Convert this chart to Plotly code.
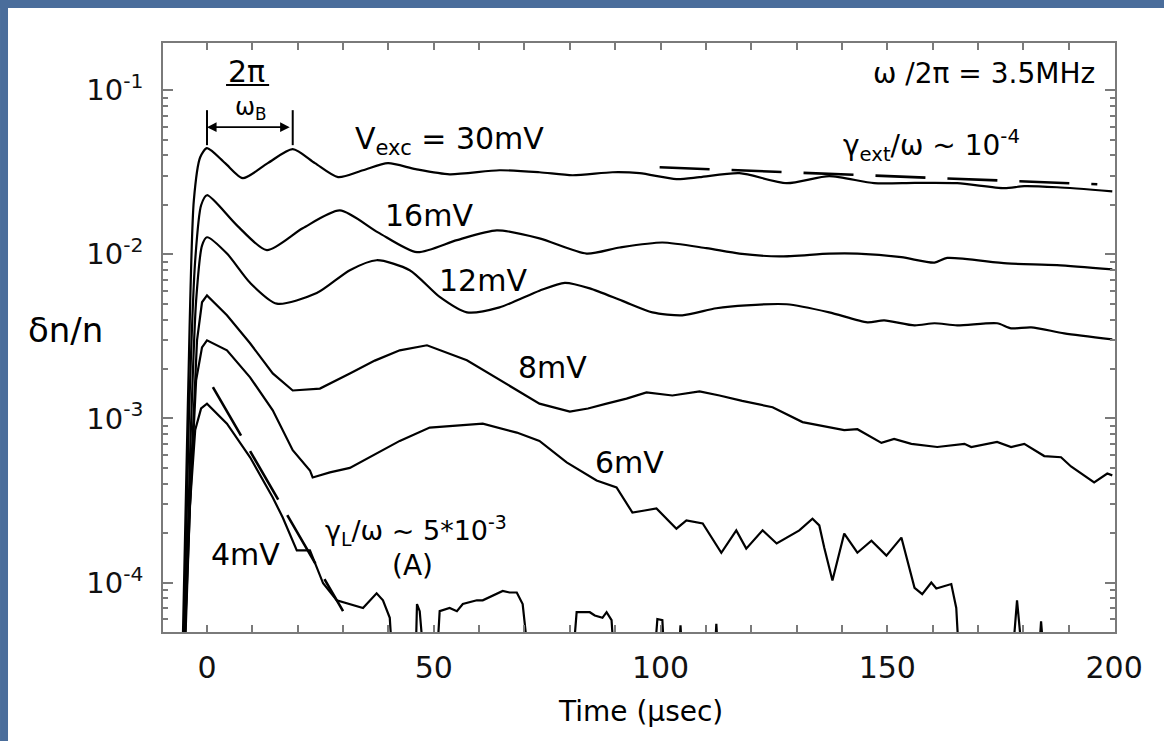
import numpy as np
import plotly.graph_objects as go

# ---------------- data (time in microseconds, delta n / n) ----------------
t30 = [-5.6, -4.2, -2.9, -1.5, 0, 4.0, 7.9, 13.4, 18.9, 23.8, 28.9, 34.4, 39.9, 46.0, 53.5,
       64.5, 73.3, 80.6, 89.4, 95.4, 103.5, 108.6, 117.4, 127.8, 137.2, 147.1, 156.0, 165.4,
       175.8, 180.2, 187.4, 199.6]
v30 = [2e-5, 1.29e-3, 2.13e-2, 3.90e-2, 4.43e-2, 3.59e-2, 2.91e-2, 3.59e-2, 4.37e-2, 3.59e-2,
       2.95e-2, 3.25e-2, 3.59e-2, 3.30e-2, 3.07e-2, 3.25e-2, 3.16e-2, 3.03e-2, 3.16e-2, 3.12e-2,
       2.87e-2, 2.95e-2, 3.12e-2, 2.71e-2, 2.99e-2, 2.71e-2, 2.72e-2, 2.71e-2, 2.53e-2, 2.60e-2,
       2.56e-2, 2.42e-2]

t16 = [-5.4, -4.0, -2.6, -1.3, 0, 6.6, 13.2, 21.1, 29.3, 37.7, 46.3, 55.1, 63.9, 73.3, 83.7,
       91.0, 100.4, 110.1, 117.4, 126.2, 137.2, 143.4, 153.1, 160.4, 163.2, 176.4, 187.4, 199.6]
v16 = [2e-5, 9.7e-4, 9.2e-3, 1.99e-2, 2.29e-2, 1.50e-2, 1.06e-2, 1.44e-2, 1.85e-2, 1.36e-2,
       1.03e-2, 1.22e-2, 1.40e-2, 1.25e-2, 1.01e-2, 1.10e-2, 1.18e-2, 1.09e-2, 1.01e-2, 9.7e-3,
       1.01e-2, 1.01e-2, 9.6e-3, 8.9e-3, 9.5e-3, 8.8e-3, 8.6e-3, 8.1e-3]

t12 = [-5.2, -3.7, -2.4, -1.1, 0, 4.4, 9.5, 15.4, 24.2, 31.5, 37.4, 44.7, 51.3, 57.3, 64.5,
       73.3, 78.9, 84.4, 91.6, 98.2, 104.8, 112.3, 118.9, 127.8, 137.2, 145.6, 149.3, 156.0,
       160.4, 165.4, 174.2, 177.3, 181.7, 189.0, 199.6]
v12 = [2e-5, 6.4e-4, 5.2e-3, 1.13e-2, 1.27e-2, 1.01e-2, 6.7e-3, 5.0e-3, 5.8e-3, 8.0e-3, 9.2e-3,
       8.0e-3, 5.5e-3, 4.43e-3, 4.75e-3, 6.0e-3, 6.7e-3, 6.2e-3, 5.2e-3, 4.43e-3, 4.25e-3,
       4.69e-3, 4.89e-3, 4.96e-3, 4.43e-3, 3.85e-3, 3.96e-3, 3.69e-3, 3.80e-3, 3.69e-3, 3.80e-3,
       3.54e-3, 3.59e-3, 3.30e-3, 3.03e-3]

t8 = [-5.2, -3.5, -2.2, -1.1, 0, 4.4, 9.5, 14.5, 18.9, 24.9, 31.5, 37.0, 42.5, 48.5, 57.3, 64.5,
      73.3, 80.0, 84.0, 88.1, 92.5, 96.9, 102.6, 108.6, 113.0, 118.0, 124.7, 131.3, 137.2, 140.5,
      143.4, 148.7, 151.5, 155.3, 161.0, 167.0, 168.5, 174.2, 177.3, 180.2, 184.6, 188.3, 190.5,
      195.6, 198.5, 199.6]
v8 = [2e-5, 4.8e-4, 2.99e-3, 5.1e-3, 5.62e-3, 4.25e-3, 2.87e-3, 1.88e-3, 1.48e-3, 1.52e-3,
      1.88e-3, 2.25e-3, 2.60e-3, 2.79e-3, 2.26e-3, 1.71e-3, 1.23e-3, 1.10e-3, 1.15e-3, 1.23e-3,
      1.32e-3, 1.44e-3, 1.38e-3, 1.46e-3, 1.38e-3, 1.28e-3, 1.17e-3, 9.5e-4, 8.8e-4, 8.5e-4,
      8.6e-4, 7.1e-4, 7.5e-4, 7.0e-4, 6.7e-4, 7.0e-4, 6.7e-4, 7.2e-4, 6.7e-4, 7.0e-4, 5.9e-4,
      5.8e-4, 5.1e-4, 4.07e-4, 4.62e-4, 4.5e-4]

t6 = [-5.4, -3.7, -2.4, -1.1, 0, 4.4, 9.5, 14.5, 18.9, 22.7, 23.3, 27.1, 31.5, 38.8, 42.5, 49.1,
      55.7, 60.8, 68.3, 73.3, 79.3, 85.9, 90.3, 93.8, 96.5, 99.1, 103.5, 105.7, 109.3, 113.4,
      116.7, 118.9, 122.5, 125.6, 130.6, 133.5, 135.0, 136.1, 137.9, 140.5, 143.4, 146.5, 149.8,
      153.1, 156.0, 157.7, 159.7, 160.8, 164.1, 165.2, 166.3, 176.9, 178.6, 180.6, 182.8, 183.9,
      185.2, 200.0]
v6 = [2e-5, 3.16e-4, 1.71e-3, 2.71e-3, 2.99e-3, 2.60e-3, 1.78e-3, 1.12e-3, 6.4e-4, 4.82e-4,
      4.37e-4, 4.69e-4, 5.0e-4, 6.4e-4, 7.3e-4, 8.8e-4, 9.1e-4, 9.3e-4, 8.2e-4, 7.3e-4, 5.4e-4,
      4.19e-4, 3.80e-4, 2.67e-4, 2.75e-4, 2.83e-4, 2.13e-4, 2.39e-4, 2.29e-4, 1.52e-4, 2.08e-4,
      1.61e-4, 2.08e-4, 1.73e-4, 2.08e-4, 2.45e-4, 2.23e-4, 1.63e-4, 1.03e-4, 1.99e-4, 1.52e-4,
      1.80e-4, 1.46e-4, 1.88e-4, 9.3e-5, 8.5e-5, 1.0e-4, 9.2e-5, 9.8e-5, 7.0e-5, 2e-5, 2e-5,
      7.8e-5, 2e-5, 2e-5, 5.8e-5, 2e-5, 2e-5]

t4 = [-5.6, -4.0, -2.6, -1.3, 0, 4.4, 9.5, 14.5, 16.7, 19.8, 22.7, 24.2, 25.6, 28.6, 31.5, 34.4,
      37.4, 38.8, 40.3, 41.4, 45.8, 46.3, 46.9, 48.5, 50.2, 51.3, 53.5, 55.1, 56.4, 59.5, 60.8,
      63.9, 65.2, 66.7, 68.3, 69.6, 71.8, 80.0, 81.5, 84.4, 85.5, 87.2, 88.1, 89.2, 90.3, 98.0,
      99.3, 100.4, 101.3, 103.5, 104.4, 105.3, 111.5, 112.3, 113.2, 200.0]
v4 = [2e-5, 2.39e-4, 8.5e-4, 1.15e-3, 1.23e-3, 9.3e-4, 5.8e-4, 3.30e-4, 2.49e-4, 1.57e-4,
      1.57e-4, 1.23e-4, 9.9e-5, 7.8e-5, 7.4e-5, 7.0e-5, 8.6e-5, 7.8e-5, 6.1e-5, 2e-5, 2e-5,
      7.4e-5, 6.7e-5, 2e-5, 2e-5, 6.7e-5, 7.0e-5, 6.7e-5, 7.4e-5, 7.8e-5, 7.8e-5, 8.6e-5, 8.9e-5,
      8.7e-5, 8.7e-5, 7.4e-5, 2e-5, 2e-5, 6.6e-5, 6.6e-5, 6.3e-5, 6.1e-5, 6.6e-5, 5.9e-5, 2e-5,
      2e-5, 6.0e-5, 5.9e-5, 2e-5, 2e-5, 5.5e-5, 2e-5, 2e-5, 5.6e-5, 2e-5, 2e-5]

# damping fits (dashed)
t_ext = [99.8, 196.3]
v_ext = [3.39e-2, 2.67e-2]
t_L = [1.3, 30.0]
v_L = [1.55e-3, 6.7e-5]

x_tickvals = [0, 50, 100, 150, 200]
y_tickvals = [1e-4, 1e-3, 1e-2, 1e-1]
y_ticktext = ["10<sup>-4</sup>", "10<sup>-3</sup>", "10<sup>-2</sup>", "10<sup>-1</sup>"]

# ---------------- figure ----------------
FONT = "DejaVu Sans"
AX = "#7a7a7a"
fig = go.Figure()

smooth = [(t30, v30), (t16, v16), (t12, v12)]
rough = [(t8, v8), (t6, v6), (t4, v4)]
for t, v in smooth:
    fig.add_trace(go.Scatter(x=t, y=v, mode="lines",
                             line=dict(color="black", width=2.2, shape="spline", smoothing=0.7),
                             showlegend=False, hoverinfo="skip"))
for t, v in rough:
    fig.add_trace(go.Scatter(x=t, y=v, mode="lines",
                             line=dict(color="black", width=2.2),
                             showlegend=False, hoverinfo="skip"))
fig.add_trace(go.Scatter(x=t_ext, y=v_ext, mode="lines",
                         line=dict(color="black", width=2.6, dash="50px,22px"),
                         showlegend=False, hoverinfo="skip"))
fig.add_trace(go.Scatter(x=t_L, y=v_L, mode="lines",
                         line=dict(color="black", width=2.6, dash="56px,18px"),
                         showlegend=False, hoverinfo="skip"))

minor_y = [k * 10.0 ** e for e in range(-5, 0) for k in range(2, 10)]

fig.update_layout(
    width=1164, height=741, autosize=False,
    margin=dict(l=163, r=49, t=43, b=109, pad=0),
    paper_bgcolor="white", plot_bgcolor="white",
    font=dict(family=FONT, color="black", size=28),
    xaxis=dict(range=[-9.7, 200.2], tickmode="array", tickvals=x_tickvals,
               ticks="inside", ticklen=7, tickwidth=1.5, tickcolor=AX,
               showline=True, linecolor=AX, linewidth=1.5, mirror="allticks",
               showgrid=False, zeroline=False,
               tickfont=dict(family=FONT, size=30, color="#111"),
               ticklabelstandoff=8,
               minor=dict(ticks="inside", ticklen=7, tickwidth=1.5, tickcolor=AX,
                          tickmode="linear", tick0=0, dtick=10, showgrid=False)),
    yaxis=dict(type="log", range=[np.log10(5e-5), np.log10(0.1937)],
               tickmode="array", tickvals=y_tickvals, ticktext=y_ticktext,
               ticks="inside", ticklen=10, tickwidth=1.5, tickcolor=AX,
               showline=True, linecolor=AX, linewidth=1.5, mirror="allticks",
               showgrid=False, zeroline=False,
               tickfont=dict(family=FONT, size=29, color="#111"),
               ticklabelstandoff=12,
               minor=dict(ticks="inside", ticklen=5, tickwidth=1.5, tickcolor=AX,
                          tickmode="array", tickvals=minor_y, showgrid=False)),
)

# slide background strips (left and top)
BLUE = "#4a6d9b"
fig.add_shape(type="rect", xref="paper", yref="paper", x0=-0.1712, x1=-0.1628,
              y0=-0.19, y1=1.08, fillcolor=BLUE, line=dict(width=0), layer="below")
fig.add_shape(type="rect", xref="paper", yref="paper", x0=-0.1712, x1=1.06,
              y0=1.0594, y1=1.08, fillcolor=BLUE, line=dict(width=0), layer="below")

# 2pi/omega_B period marker
fig.add_shape(type="line", x0=0, x1=0, y0=4.62e-2, y1=7.55e-2, line=dict(color="black", width=2))
fig.add_shape(type="line", x0=18.9, x1=18.9, y0=4.62e-2, y1=7.55e-2, line=dict(color="black", width=2))
fig.add_shape(type="line", x0=4.2, x1=13.7, y0=0.1073, y1=0.1073, line=dict(color="black", width=2))
fig.add_annotation(x=0, y=np.log10(5.95e-2), ax=18.9, ay=np.log10(5.95e-2), axref="x", ayref="y",
                   text=" ", showarrow=True, arrowside="end+start", arrowhead=2, arrowsize=1.2,
                   arrowwidth=1.6, arrowcolor="black", standoff=0, startstandoff=0,
                   font=dict(size=10))


def label(text, x, ylog, size=30, xanchor="center"):
    fig.add_annotation(x=x, y=ylog, text=text, showarrow=False, xanchor=xanchor,
                       yanchor="middle", font=dict(family=FONT, size=size, color="black"))


label("2π", 8.8, -0.884, 30)
label("ω<sub>B</sub>", 9.7, -1.110, 24)
label("V<sub>exc</sub> = 30mV", 32.2, -1.305, 30, "left")
label("16mV", 48.9, -1.762)
label("12mV", 60.8, -2.159)
label("8mV", 76.2, -2.689)
label("6mV", 93.2, -3.268)
label("4mV", 8.4, -3.829)
label("γ<sub>L</sub>/ω ~ 5*10<sup>-3</sup>", 25.6, -3.683, 27, "left")
label("(A)", 45.2, -3.896, 28)
label("ω /2π = 3.5MHz", 196.3, -0.896, 28, "right")
label("γ<sub>ext</sub>/ω ~ 10<sup>-4</sup>", 179.7, -1.335, 28, "right")

# axis titles
fig.add_annotation(xref="paper", yref="paper", x=-0.1029, y=0.5127, text="δn/n", showarrow=False,
                   xanchor="center", yanchor="middle", font=dict(family=FONT, size=34, color="black"))
fig.add_annotation(xref="paper", yref="paper", x=0.502, y=-0.1358, text="Time (µsec)",
                   showarrow=False, xanchor="center", yanchor="middle",
                   font=dict(family=FONT, size=28, color="black"))

fig.write_html("out.html")
